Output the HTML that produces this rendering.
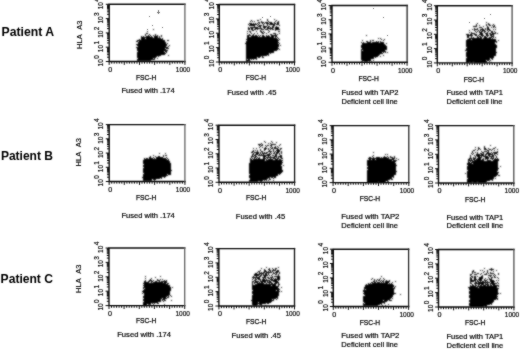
<!DOCTYPE html>
<html><head><meta charset="utf-8"><style>
html,body{margin:0;padding:0;background:#fff;}
body{width:520px;height:349px;overflow:hidden;}
svg{display:block;}
</style></head><body>
<svg width="520" height="349" viewBox="0 0 520 349">
<defs><filter id="bl" filterUnits="userSpaceOnUse" x="0" y="0" width="520" height="349"><feConvolveMatrix order="3" kernelMatrix="1 2 1 2 10.0 2 1 2 1" divisor="22.0" edgeMode="none"/></filter><filter id="gb" filterUnits="userSpaceOnUse" x="0" y="0" width="520" height="349"><feConvolveMatrix order="3" kernelMatrix="1 2 1 2 20.0 2 1 2 1" divisor="32.0" edgeMode="none"/></filter></defs><g filter="url(#gb)"><path d="M260 19.5h1M267 19.5h1M274 19.5h1M251 20.5h1M257 20.5h2M267 20.5h1M276 20.5h1M250 21.5h1M252 21.5h1M254 21.5h1M261 21.5h1M268 21.5h1M275 21.5h1M278 21.5h1M258 22.5h2M261 22.5h3M265 22.5h3M269 22.5h3M274 22.5h1M277 22.5h2M486 22.5h1M249 23.5h3M253 23.5h1M255 23.5h1M257 23.5h1M259 23.5h1M262 23.5h1M264 23.5h1M266 23.5h3M270 23.5h3M274 23.5h2M277 23.5h2M477 23.5h1M488 23.5h1M248 24.5h1M250 24.5h7M258 24.5h1M263 24.5h1M267 24.5h1M269 24.5h6M276 24.5h3M476 24.5h1M486 24.5h1M488 24.5h2M493 24.5h1M249 25.5h6M257 25.5h1M259 25.5h3M263 25.5h1M267 25.5h1M273 25.5h2M279 25.5h1M476 25.5h1M479 25.5h1M486 25.5h1M489 25.5h2M492 25.5h1M494 25.5h1M254 26.5h1M258 26.5h3M263 26.5h4M268 26.5h2M272 26.5h2M276 26.5h1M473 26.5h4M483 26.5h1M487 26.5h1M493 26.5h2M248 27.5h1M250 27.5h8M260 27.5h1M263 27.5h3M267 27.5h2M270 27.5h1M272 27.5h2M275 27.5h4M479 27.5h3M487 27.5h2M491 27.5h1M493 27.5h1M495 27.5h1M248 28.5h2M251 28.5h2M255 28.5h7M264 28.5h1M267 28.5h6M275 28.5h4M474 28.5h1M477 28.5h1M482 28.5h1M485 28.5h1M487 28.5h2M153 29.5h1M248 29.5h2M251 29.5h2M254 29.5h2M257 29.5h1M261 29.5h3M265 29.5h3M270 29.5h1M272 29.5h2M275 29.5h5M472 29.5h1M474 29.5h4M480 29.5h4M485 29.5h1M487 29.5h3M493 29.5h1M495 29.5h1M252 30.5h2M260 30.5h1M268 30.5h1M275 30.5h1M469 30.5h1M474 30.5h1M478 30.5h1M480 30.5h1M482 30.5h3M487 30.5h1M489 30.5h2M147 31.5h1M247 31.5h1M249 31.5h2M256 31.5h1M260 31.5h2M263 31.5h1M269 31.5h1M278 31.5h2M475 31.5h1M477 31.5h1M479 31.5h1M481 31.5h2M484 31.5h2M488 31.5h1M491 31.5h2M494 31.5h1M250 32.5h1M261 32.5h2M264 32.5h1M268 32.5h1M469 32.5h1M471 32.5h1M476 32.5h1M479 32.5h3M484 32.5h1M487 32.5h1M491 32.5h2M495 32.5h1M146 33.5h2M247 33.5h1M251 33.5h1M254 33.5h1M257 33.5h1M262 33.5h2M266 33.5h1M273 33.5h3M279 33.5h1M471 33.5h4M480 33.5h3M485 33.5h3M489 33.5h2M492 33.5h4M497 33.5h1M145 34.5h1M149 34.5h1M155 34.5h1M249 34.5h1M253 34.5h1M270 34.5h2M275 34.5h1M277 34.5h1M466 34.5h3M470 34.5h2M474 34.5h3M479 34.5h4M486 34.5h2M490 34.5h4M145 35.5h1M148 35.5h1M150 35.5h1M153 35.5h1M155 35.5h1M157 35.5h1M161 35.5h1M247 35.5h4M252 35.5h2M255 35.5h2M258 35.5h1M260 35.5h1M262 35.5h2M266 35.5h1M268 35.5h1M271 35.5h6M366 35.5h1M467 35.5h6M475 35.5h2M478 35.5h1M481 35.5h3M486 35.5h3M490 35.5h2M493 35.5h1M141 36.5h1M143 36.5h1M146 36.5h4M151 36.5h1M154 36.5h4M159 36.5h1M161 36.5h1M247 36.5h2M251 36.5h7M259 36.5h1M262 36.5h3M266 36.5h4M271 36.5h3M275 36.5h2M467 36.5h2M471 36.5h1M477 36.5h1M479 36.5h2M482 36.5h1M484 36.5h2M487 36.5h1M491 36.5h3M141 37.5h12M154 37.5h4M159 37.5h1M247 37.5h27M275 37.5h1M277 37.5h1M467 37.5h2M471 37.5h1M473 37.5h1M477 37.5h2M480 37.5h2M484 37.5h3M489 37.5h3M493 37.5h1M495 37.5h1M141 38.5h4M146 38.5h15M162 38.5h1M247 38.5h30M278 38.5h1M378 38.5h1M380 38.5h1M469 38.5h13M483 38.5h8M492 38.5h1M139 39.5h1M141 39.5h22M246 39.5h32M279 39.5h1M381 39.5h1M384 39.5h1M467 39.5h4M472 39.5h24M137 40.5h28M167 40.5h2M247 40.5h32M362 40.5h1M370 40.5h1M372 40.5h2M383 40.5h1M466 40.5h30M498 40.5h1M136 41.5h2M139 41.5h26M246 41.5h32M366 41.5h2M370 41.5h1M376 41.5h1M378 41.5h1M380 41.5h1M466 41.5h31M138 42.5h28M246 42.5h33M361 42.5h1M363 42.5h1M367 42.5h4M372 42.5h7M380 42.5h4M466 42.5h29M496 42.5h1M138 43.5h28M167 43.5h1M245 43.5h33M279 43.5h1M362 43.5h22M386 43.5h1M466 43.5h29M136 44.5h31M246 44.5h33M362 44.5h23M466 44.5h30M137 45.5h30M169 45.5h1M246 45.5h33M280 45.5h1M361 45.5h25M466 45.5h31M138 46.5h28M168 46.5h1M246 46.5h33M361 46.5h26M466 46.5h31M136 47.5h32M246 47.5h32M361 47.5h26M467 47.5h30M137 48.5h28M166 48.5h3M246 48.5h33M362 48.5h25M466 48.5h30M137 49.5h29M246 49.5h32M279 49.5h1M361 49.5h26M466 49.5h30M137 50.5h31M246 50.5h31M361 50.5h1M363 50.5h22M465 50.5h31M138 51.5h26M165 51.5h2M246 51.5h28M361 51.5h25M467 51.5h29M137 52.5h28M166 52.5h1M246 52.5h28M361 52.5h21M383 52.5h1M385 52.5h1M387 52.5h1M466 52.5h31M137 53.5h29M246 53.5h23M270 53.5h1M361 53.5h22M466 53.5h30M137 54.5h28M246 54.5h23M361 54.5h19M466 54.5h30M137 55.5h24M168 55.5h1M246 55.5h21M268 55.5h1M361 55.5h18M383 55.5h1M466 55.5h30M137 56.5h20M158 56.5h1M246 56.5h15M262 56.5h1M361 56.5h17M380 56.5h1M466 56.5h28M137 57.5h19M246 57.5h11M258 57.5h2M262 57.5h2M361 57.5h13M375 57.5h1M467 57.5h27M138 58.5h15M154 58.5h1M157 58.5h1M246 58.5h11M361 58.5h13M466 58.5h24M491 58.5h2M137 59.5h18M246 59.5h1M248 59.5h2M251 59.5h1M253 59.5h1M256 59.5h1M361 59.5h10M466 59.5h24M492 59.5h1M137 60.5h14M246 60.5h4M362 60.5h9M373 60.5h1M466 60.5h20M487 60.5h2M490 60.5h1M246 61.5h2M249 61.5h2M361 61.5h2M364 61.5h4M369 61.5h1M371 61.5h1M466 61.5h21M489 61.5h1M466 62.5h3M470 62.5h3M474 62.5h13M491 62.5h1M264 141.5h1M271 141.5h1M265 142.5h1M272 142.5h1M276 142.5h1M261 143.5h1M268 143.5h1M270 143.5h1M258 144.5h3M262 144.5h1M271 144.5h5M280 144.5h1M259 145.5h1M261 145.5h2M265 145.5h1M267 145.5h2M270 145.5h2M279 145.5h1M490 145.5h1M260 146.5h1M266 146.5h1M271 146.5h1M275 146.5h1M277 146.5h1M484 146.5h1M259 147.5h1M262 147.5h1M265 147.5h1M270 147.5h1M272 147.5h1M274 147.5h2M278 147.5h1M475 147.5h1M478 147.5h1M484 147.5h1M495 147.5h1M253 148.5h1M256 148.5h1M264 148.5h3M268 148.5h1M271 148.5h2M274 148.5h4M280 148.5h2M478 148.5h2M484 148.5h2M488 148.5h1M493 148.5h2M260 149.5h1M264 149.5h2M268 149.5h1M270 149.5h1M273 149.5h1M277 149.5h2M280 149.5h1M475 149.5h1M478 149.5h1M480 149.5h1M484 149.5h3M489 149.5h2M492 149.5h1M497 149.5h1M253 150.5h1M255 150.5h1M257 150.5h1M260 150.5h1M264 150.5h1M269 150.5h1M273 150.5h1M276 150.5h4M473 150.5h2M477 150.5h1M487 150.5h2M491 150.5h1M494 150.5h1M252 151.5h2M257 151.5h1M261 151.5h2M268 151.5h4M273 151.5h1M275 151.5h1M277 151.5h3M281 151.5h1M472 151.5h1M481 151.5h1M484 151.5h3M488 151.5h1M497 151.5h1M251 152.5h2M254 152.5h5M260 152.5h1M262 152.5h1M264 152.5h1M266 152.5h2M270 152.5h1M274 152.5h1M276 152.5h3M281 152.5h1M373 152.5h1M472 152.5h1M475 152.5h1M477 152.5h1M482 152.5h2M487 152.5h2M491 152.5h1M493 152.5h5M159 153.5h1M165 153.5h1M253 153.5h1M256 153.5h3M260 153.5h1M262 153.5h5M269 153.5h1M271 153.5h1M273 153.5h2M276 153.5h2M279 153.5h1M281 153.5h1M471 153.5h1M473 153.5h1M477 153.5h1M480 153.5h2M483 153.5h1M486 153.5h5M492 153.5h1M494 153.5h3M252 154.5h2M255 154.5h3M259 154.5h1M261 154.5h1M263 154.5h1M267 154.5h4M275 154.5h2M279 154.5h1M385 154.5h1M387 154.5h1M472 154.5h1M476 154.5h4M481 154.5h3M485 154.5h2M488 154.5h5M494 154.5h1M497 154.5h1M153 155.5h1M163 155.5h1M165 155.5h2M252 155.5h1M254 155.5h2M258 155.5h12M272 155.5h2M275 155.5h2M280 155.5h2M373 155.5h1M470 155.5h1M474 155.5h1M476 155.5h8M485 155.5h1M488 155.5h2M492 155.5h2M495 155.5h1M150 156.5h1M155 156.5h1M158 156.5h2M163 156.5h1M251 156.5h3M255 156.5h2M263 156.5h3M268 156.5h1M270 156.5h1M274 156.5h3M278 156.5h4M372 156.5h1M384 156.5h1M387 156.5h1M390 156.5h1M394 156.5h1M470 156.5h1M475 156.5h1M477 156.5h3M481 156.5h1M483 156.5h5M489 156.5h5M496 156.5h1M149 157.5h2M153 157.5h1M156 157.5h7M166 157.5h1M251 157.5h1M254 157.5h2M257 157.5h1M259 157.5h1M263 157.5h2M266 157.5h9M276 157.5h1M278 157.5h1M280 157.5h2M369 157.5h2M373 157.5h1M376 157.5h4M381 157.5h1M383 157.5h4M388 157.5h1M390 157.5h3M394 157.5h1M470 157.5h1M473 157.5h1M475 157.5h1M478 157.5h4M485 157.5h4M491 157.5h1M493 157.5h1M496 157.5h1M144 158.5h1M146 158.5h2M149 158.5h4M154 158.5h1M156 158.5h10M167 158.5h1M250 158.5h1M252 158.5h1M254 158.5h1M256 158.5h1M258 158.5h2M263 158.5h3M267 158.5h1M270 158.5h1M273 158.5h3M277 158.5h2M281 158.5h2M368 158.5h21M392 158.5h3M396 158.5h1M469 158.5h3M473 158.5h3M477 158.5h4M483 158.5h1M485 158.5h4M490 158.5h4M495 158.5h1M497 158.5h1M144 159.5h23M168 159.5h1M250 159.5h2M253 159.5h12M266 159.5h1M268 159.5h5M275 159.5h3M279 159.5h2M369 159.5h2M372 159.5h3M376 159.5h18M398 159.5h1M468 159.5h2M471 159.5h1M473 159.5h2M476 159.5h5M482 159.5h2M485 159.5h1M487 159.5h1M492 159.5h1M494 159.5h5M143 160.5h26M250 160.5h15M266 160.5h17M367 160.5h25M393 160.5h4M468 160.5h5M474 160.5h10M487 160.5h4M493 160.5h6M143 161.5h27M250 161.5h32M367 161.5h29M468 161.5h1M470 161.5h1M472 161.5h26M143 162.5h27M250 162.5h33M367 162.5h28M468 162.5h2M471 162.5h27M143 163.5h28M249 163.5h33M367 163.5h29M467 163.5h5M473 163.5h25M144 164.5h27M249 164.5h33M367 164.5h29M467 164.5h31M143 165.5h28M249 165.5h32M283 165.5h1M367 165.5h30M468 165.5h30M143 166.5h28M249 166.5h33M368 166.5h28M467 166.5h31M500 166.5h1M144 167.5h27M249 167.5h33M367 167.5h29M467 167.5h31M143 168.5h28M249 168.5h33M367 168.5h29M467 168.5h32M143 169.5h28M249 169.5h33M368 169.5h28M467 169.5h31M143 170.5h29M249 170.5h34M367 170.5h29M468 170.5h30M143 171.5h28M249 171.5h34M367 171.5h30M467 171.5h30M143 172.5h28M249 172.5h33M367 172.5h29M467 172.5h32M144 173.5h27M249 173.5h32M367 173.5h29M465 173.5h1M467 173.5h31M143 174.5h24M168 174.5h3M250 174.5h28M279 174.5h1M367 174.5h29M467 174.5h31M143 175.5h25M249 175.5h29M367 175.5h27M467 175.5h30M498 175.5h2M143 176.5h23M249 176.5h27M367 176.5h27M467 176.5h29M142 177.5h20M164 177.5h1M249 177.5h21M271 177.5h2M274 177.5h2M367 177.5h25M393 177.5h1M467 177.5h27M143 178.5h17M161 178.5h1M250 178.5h18M269 178.5h1M273 178.5h1M367 178.5h25M468 178.5h26M495 178.5h1M143 179.5h9M153 179.5h3M250 179.5h17M269 179.5h2M367 179.5h23M391 179.5h2M467 179.5h26M143 180.5h9M154 180.5h1M249 180.5h14M264 180.5h1M266 180.5h1M268 180.5h1M273 180.5h1M367 180.5h21M467 180.5h23M492 180.5h1M249 181.5h9M260 181.5h2M367 181.5h19M387 181.5h2M467 181.5h20M367 182.5h11M379 182.5h6M467 182.5h5M473 182.5h4M478 182.5h8M266 267.5h1M278 267.5h1M261 268.5h1M269 268.5h1M272 268.5h1M275 268.5h2M484 268.5h1M491 268.5h1M264 269.5h1M268 269.5h2M273 269.5h1M275 269.5h1M489 269.5h5M260 270.5h1M264 270.5h2M269 270.5h2M272 270.5h4M277 270.5h2M473 270.5h1M480 270.5h1M482 270.5h1M487 270.5h1M491 270.5h1M496 270.5h1M258 271.5h2M264 271.5h3M268 271.5h1M270 271.5h1M272 271.5h1M276 271.5h3M472 271.5h2M484 271.5h1M487 271.5h1M493 271.5h1M257 272.5h1M259 272.5h1M261 272.5h1M263 272.5h2M266 272.5h6M273 272.5h1M275 272.5h3M279 272.5h1M472 272.5h1M474 272.5h2M483 272.5h1M487 272.5h1M490 272.5h1M255 273.5h2M259 273.5h5M265 273.5h2M268 273.5h1M273 273.5h2M276 273.5h1M279 273.5h1M472 273.5h1M477 273.5h2M481 273.5h1M486 273.5h1M488 273.5h1M490 273.5h4M498 273.5h1M254 274.5h6M261 274.5h1M263 274.5h1M265 274.5h2M268 274.5h1M272 274.5h1M275 274.5h2M278 274.5h1M470 274.5h2M474 274.5h3M480 274.5h1M484 274.5h3M494 274.5h1M498 274.5h1M254 275.5h5M260 275.5h2M263 275.5h5M269 275.5h1M271 275.5h1M278 275.5h1M470 275.5h1M482 275.5h1M488 275.5h4M493 275.5h1M495 275.5h1M145 276.5h1M160 276.5h1M253 276.5h1M256 276.5h1M259 276.5h2M264 276.5h2M272 276.5h1M274 276.5h6M381 276.5h1M471 276.5h2M474 276.5h2M477 276.5h1M481 276.5h2M490 276.5h1M494 276.5h1M155 277.5h1M252 277.5h8M262 277.5h4M267 277.5h2M270 277.5h3M277 277.5h3M470 277.5h1M472 277.5h1M474 277.5h2M479 277.5h4M488 277.5h1M491 277.5h2M494 277.5h2M497 277.5h1M145 278.5h1M151 278.5h1M253 278.5h1M255 278.5h1M257 278.5h3M263 278.5h1M265 278.5h1M268 278.5h2M271 278.5h1M273 278.5h1M275 278.5h1M277 278.5h3M372 278.5h1M380 278.5h1M383 278.5h1M470 278.5h2M474 278.5h2M479 278.5h4M485 278.5h1M489 278.5h1M491 278.5h1M498 278.5h1M150 279.5h1M157 279.5h1M160 279.5h1M162 279.5h1M252 279.5h1M255 279.5h2M258 279.5h3M262 279.5h3M266 279.5h1M270 279.5h3M274 279.5h6M371 279.5h1M374 279.5h1M377 279.5h1M379 279.5h1M384 279.5h1M470 279.5h2M474 279.5h3M478 279.5h4M484 279.5h1M487 279.5h1M489 279.5h3M145 280.5h1M149 280.5h3M153 280.5h1M157 280.5h3M164 280.5h1M166 280.5h1M254 280.5h2M260 280.5h1M262 280.5h8M271 280.5h6M278 280.5h1M374 280.5h1M376 280.5h1M378 280.5h2M381 280.5h1M383 280.5h1M386 280.5h1M389 280.5h1M470 280.5h6M477 280.5h1M479 280.5h3M484 280.5h3M490 280.5h4M496 280.5h1M498 280.5h1M144 281.5h2M148 281.5h2M151 281.5h2M155 281.5h2M159 281.5h1M161 281.5h6M252 281.5h2M255 281.5h4M260 281.5h6M267 281.5h1M269 281.5h2M273 281.5h5M373 281.5h2M376 281.5h1M380 281.5h1M382 281.5h2M385 281.5h5M395 281.5h1M470 281.5h4M475 281.5h1M477 281.5h2M480 281.5h1M482 281.5h2M485 281.5h1M487 281.5h1M490 281.5h5M144 282.5h5M151 282.5h1M153 282.5h10M164 282.5h3M252 282.5h1M254 282.5h4M259 282.5h1M261 282.5h2M264 282.5h2M267 282.5h5M275 282.5h4M371 282.5h2M374 282.5h2M377 282.5h3M381 282.5h1M383 282.5h1M385 282.5h4M392 282.5h1M470 282.5h1M475 282.5h2M478 282.5h12M491 282.5h3M497 282.5h1M143 283.5h23M167 283.5h2M252 283.5h1M254 283.5h1M257 283.5h7M266 283.5h1M269 283.5h1M271 283.5h2M274 283.5h3M278 283.5h1M368 283.5h1M370 283.5h1M372 283.5h16M389 283.5h1M391 283.5h1M470 283.5h2M474 283.5h10M485 283.5h1M487 283.5h1M490 283.5h7M498 283.5h1M144 284.5h24M252 284.5h1M255 284.5h21M278 284.5h2M366 284.5h1M368 284.5h25M472 284.5h1M475 284.5h1M478 284.5h2M481 284.5h3M485 284.5h4M490 284.5h1M492 284.5h3M143 285.5h27M252 285.5h19M272 285.5h4M278 285.5h1M365 285.5h29M470 285.5h1M472 285.5h2M475 285.5h2M478 285.5h1M480 285.5h2M483 285.5h3M487 285.5h2M490 285.5h2M493 285.5h6M144 286.5h26M252 286.5h27M365 286.5h29M395 286.5h1M470 286.5h6M477 286.5h20M498 286.5h1M143 287.5h28M172 287.5h1M252 287.5h26M281 287.5h1M364 287.5h29M394 287.5h1M468 287.5h10M479 287.5h18M143 288.5h1M145 288.5h26M252 288.5h27M364 288.5h31M469 288.5h30M144 289.5h27M252 289.5h28M364 289.5h1M366 289.5h28M469 289.5h29M143 290.5h28M253 290.5h23M277 290.5h2M363 290.5h31M470 290.5h28M142 291.5h28M252 291.5h28M281 291.5h1M363 291.5h31M469 291.5h29M143 292.5h27M252 292.5h27M364 292.5h30M469 292.5h29M142 293.5h1M144 293.5h26M252 293.5h27M363 293.5h33M469 293.5h30M500 293.5h1M144 294.5h26M253 294.5h26M364 294.5h30M400 294.5h1M470 294.5h28M144 295.5h25M170 295.5h1M252 295.5h27M365 295.5h28M469 295.5h28M143 296.5h24M168 296.5h1M171 296.5h1M252 296.5h26M363 296.5h30M469 296.5h29M143 297.5h23M167 297.5h2M252 297.5h26M363 297.5h29M469 297.5h28M144 298.5h18M163 298.5h4M252 298.5h24M277 298.5h1M363 298.5h28M392 298.5h1M470 298.5h28M143 299.5h18M162 299.5h3M252 299.5h20M273 299.5h1M276 299.5h1M363 299.5h27M470 299.5h26M497 299.5h1M143 300.5h18M162 300.5h1M164 300.5h2M171 300.5h1M251 300.5h23M363 300.5h20M384 300.5h4M389 300.5h3M469 300.5h25M144 301.5h17M163 301.5h1M252 301.5h20M363 301.5h24M469 301.5h25M143 302.5h15M252 302.5h6M259 302.5h12M364 302.5h21M470 302.5h23M143 303.5h8M152 303.5h1M154 303.5h1M157 303.5h2M252 303.5h14M267 303.5h2M363 303.5h1M365 303.5h17M384 303.5h1M469 303.5h23M143 304.5h4M148 304.5h3M153 304.5h1M164 304.5h1M252 304.5h6M259 304.5h3M363 304.5h17M381 304.5h1M388 304.5h1M469 304.5h21M491 304.5h1M143 305.5h4M155 305.5h1M253 305.5h4M261 305.5h1M265 305.5h1M363 305.5h15M382 305.5h1M385 305.5h1M469 305.5h18M470 306.5h14M485 306.5h2" stroke="#000" stroke-width="1" fill="none" shape-rendering="crispEdges" filter="url(#bl)"/><path d="M373 8.5h1M158 10.5h1M158 11.5h1M157 12.5h3M158 13.5h1M490 14.5h1M149 16.5h1M270 16.5h1M262 17.5h1M383 17.5h1M484 18.5h1M469 22.5h1M477 23.5h1M152 25.5h1M162 27.5h1M147 29.5h1M387 35.5h1" stroke="#777" stroke-width="1" fill="none" shape-rendering="crispEdges"/><path d="M184.9 61.5H109.2V4.3H184.9M294.5 62.0H219.3V4.5H294.5M407.1 62.3H332.0V5.5H407.1M512.1 62.9H437.3V5.7H512.1M184.9 181.5H109.2V124.6H184.9M294.6 182.3H219.0V125.2H294.6M408.8 182.6H333.1V125.6H408.8M513.8 183.0H438.5V125.6H513.8M184.7 305.6H109.0V248.0H184.7M294.5 306.0H218.9V248.6H294.5M408.6 306.5H333.3V249.2H408.6M513.9 307.0H438.5V249.5H513.9" stroke="#111" stroke-width="1.4" fill="none" stroke-linecap="square"/><path d="M184.9 3.6V62.2" stroke="#666" stroke-width="1.3"/><path d="M294.5 3.8V62.7" stroke="#1a1a1a" stroke-width="1.3"/><path d="M407.1 4.8V63.0" stroke="#2a2a2a" stroke-width="1.3"/><path d="M512.1 5.0V63.6" stroke="#505050" stroke-width="1.3"/><path d="M184.9 123.9V182.2" stroke="#666" stroke-width="1.3"/><path d="M294.6 124.5V183.0" stroke="#1a1a1a" stroke-width="1.3"/><path d="M408.8 124.9V183.3" stroke="#2a2a2a" stroke-width="1.3"/><path d="M513.8 124.9V183.7" stroke="#505050" stroke-width="1.3"/><path d="M184.7 247.3V306.3" stroke="#666" stroke-width="1.3"/><path d="M294.5 247.9V306.7" stroke="#1a1a1a" stroke-width="1.3"/><path d="M408.6 248.5V307.2" stroke="#2a2a2a" stroke-width="1.3"/><path d="M513.9 248.8V307.7" stroke="#505050" stroke-width="1.3"/><path d="M109.2 61.5v3.4M111.7 61.5v2.2M114.2 61.5v2.2M116.8 61.5v2.2M119.3 61.5v2.2M121.8 61.5v2.2M124.3 61.5v3.4M126.9 61.5v2.2M129.4 61.5v2.2M131.9 61.5v2.2M134.4 61.5v2.2M137.0 61.5v2.2M139.5 61.5v3.4M142.0 61.5v2.2M144.5 61.5v2.2M147.1 61.5v2.2M149.6 61.5v2.2M152.1 61.5v2.2M154.6 61.5v3.4M157.1 61.5v2.2M159.7 61.5v2.2M162.2 61.5v2.2M164.7 61.5v2.2M167.2 61.5v2.2M169.8 61.5v3.4M172.3 61.5v2.2M174.8 61.5v2.2M177.3 61.5v2.2M179.9 61.5v2.2M182.4 61.5v2.2M184.9 61.5v3.4M109.2 61.5h-3.4M109.2 57.2h-2.2M109.2 54.7h-2.2M109.2 52.9h-2.2M109.2 51.5h-2.2M109.2 50.4h-2.2M109.2 49.4h-2.2M109.2 48.6h-2.2M109.2 47.9h-2.2M109.2 47.2h-3.4M109.2 42.9h-2.2M109.2 40.4h-2.2M109.2 38.6h-2.2M109.2 37.2h-2.2M109.2 36.1h-2.2M109.2 35.1h-2.2M109.2 34.3h-2.2M109.2 33.6h-2.2M109.2 32.9h-3.4M109.2 28.6h-2.2M109.2 26.1h-2.2M109.2 24.3h-2.2M109.2 22.9h-2.2M109.2 21.8h-2.2M109.2 20.8h-2.2M109.2 20.0h-2.2M109.2 19.3h-2.2M109.2 18.6h-3.4M109.2 14.3h-2.2M109.2 11.8h-2.2M109.2 10.0h-2.2M109.2 8.6h-2.2M109.2 7.5h-2.2M109.2 6.5h-2.2M109.2 5.7h-2.2M109.2 5.0h-2.2M109.2 4.3h-3.4M219.3 62.0v3.4M221.8 62.0v2.2M224.3 62.0v2.2M226.8 62.0v2.2M229.3 62.0v2.2M231.8 62.0v2.2M234.3 62.0v3.4M236.8 62.0v2.2M239.4 62.0v2.2M241.9 62.0v2.2M244.4 62.0v2.2M246.9 62.0v2.2M249.4 62.0v3.4M251.9 62.0v2.2M254.4 62.0v2.2M256.9 62.0v2.2M259.4 62.0v2.2M261.9 62.0v2.2M264.4 62.0v3.4M266.9 62.0v2.2M269.4 62.0v2.2M271.9 62.0v2.2M274.4 62.0v2.2M277.0 62.0v2.2M279.5 62.0v3.4M282.0 62.0v2.2M284.5 62.0v2.2M287.0 62.0v2.2M289.5 62.0v2.2M292.0 62.0v2.2M294.5 62.0v3.4M219.3 62.0h-3.4M219.3 57.7h-2.2M219.3 55.1h-2.2M219.3 53.3h-2.2M219.3 52.0h-2.2M219.3 50.8h-2.2M219.3 49.9h-2.2M219.3 49.0h-2.2M219.3 48.3h-2.2M219.3 47.6h-3.4M219.3 43.3h-2.2M219.3 40.8h-2.2M219.3 39.0h-2.2M219.3 37.6h-2.2M219.3 36.4h-2.2M219.3 35.5h-2.2M219.3 34.6h-2.2M219.3 33.9h-2.2M219.3 33.2h-3.4M219.3 28.9h-2.2M219.3 26.4h-2.2M219.3 24.6h-2.2M219.3 23.2h-2.2M219.3 22.1h-2.2M219.3 21.1h-2.2M219.3 20.3h-2.2M219.3 19.5h-2.2M219.3 18.9h-3.4M219.3 14.5h-2.2M219.3 12.0h-2.2M219.3 10.2h-2.2M219.3 8.8h-2.2M219.3 7.7h-2.2M219.3 6.7h-2.2M219.3 5.9h-2.2M219.3 5.2h-2.2M219.3 4.5h-3.4M332.0 62.3v3.4M334.5 62.3v2.2M337.0 62.3v2.2M339.5 62.3v2.2M342.0 62.3v2.2M344.5 62.3v2.2M347.0 62.3v3.4M349.5 62.3v2.2M352.0 62.3v2.2M354.5 62.3v2.2M357.0 62.3v2.2M359.5 62.3v2.2M362.0 62.3v3.4M364.5 62.3v2.2M367.0 62.3v2.2M369.6 62.3v2.2M372.1 62.3v2.2M374.6 62.3v2.2M377.1 62.3v3.4M379.6 62.3v2.2M382.1 62.3v2.2M384.6 62.3v2.2M387.1 62.3v2.2M389.6 62.3v2.2M392.1 62.3v3.4M394.6 62.3v2.2M397.1 62.3v2.2M399.6 62.3v2.2M402.1 62.3v2.2M404.6 62.3v2.2M407.1 62.3v3.4M332.0 62.3h-3.4M332.0 58.0h-2.2M332.0 55.5h-2.2M332.0 53.8h-2.2M332.0 52.4h-2.2M332.0 51.3h-2.2M332.0 50.3h-2.2M332.0 49.5h-2.2M332.0 48.7h-2.2M332.0 48.1h-3.4M332.0 43.8h-2.2M332.0 41.3h-2.2M332.0 39.6h-2.2M332.0 38.2h-2.2M332.0 37.1h-2.2M332.0 36.1h-2.2M332.0 35.3h-2.2M332.0 34.5h-2.2M332.0 33.9h-3.4M332.0 29.6h-2.2M332.0 27.1h-2.2M332.0 25.4h-2.2M332.0 24.0h-2.2M332.0 22.9h-2.2M332.0 21.9h-2.2M332.0 21.1h-2.2M332.0 20.3h-2.2M332.0 19.7h-3.4M332.0 15.4h-2.2M332.0 12.9h-2.2M332.0 11.2h-2.2M332.0 9.8h-2.2M332.0 8.7h-2.2M332.0 7.7h-2.2M332.0 6.9h-2.2M332.0 6.1h-2.2M332.0 5.5h-3.4M437.3 62.9v3.4M439.8 62.9v2.2M442.3 62.9v2.2M444.8 62.9v2.2M447.3 62.9v2.2M449.8 62.9v2.2M452.3 62.9v3.4M454.8 62.9v2.2M457.2 62.9v2.2M459.7 62.9v2.2M462.2 62.9v2.2M464.7 62.9v2.2M467.2 62.9v3.4M469.7 62.9v2.2M472.2 62.9v2.2M474.7 62.9v2.2M477.2 62.9v2.2M479.7 62.9v2.2M482.2 62.9v3.4M484.7 62.9v2.2M487.2 62.9v2.2M489.7 62.9v2.2M492.2 62.9v2.2M494.6 62.9v2.2M497.1 62.9v3.4M499.6 62.9v2.2M502.1 62.9v2.2M504.6 62.9v2.2M507.1 62.9v2.2M509.6 62.9v2.2M512.1 62.9v3.4M437.3 62.9h-3.4M437.3 58.6h-2.2M437.3 56.1h-2.2M437.3 54.3h-2.2M437.3 52.9h-2.2M437.3 51.8h-2.2M437.3 50.8h-2.2M437.3 50.0h-2.2M437.3 49.3h-2.2M437.3 48.6h-3.4M437.3 44.3h-2.2M437.3 41.8h-2.2M437.3 40.0h-2.2M437.3 38.6h-2.2M437.3 37.5h-2.2M437.3 36.5h-2.2M437.3 35.7h-2.2M437.3 35.0h-2.2M437.3 34.3h-3.4M437.3 30.0h-2.2M437.3 27.5h-2.2M437.3 25.7h-2.2M437.3 24.3h-2.2M437.3 23.2h-2.2M437.3 22.2h-2.2M437.3 21.4h-2.2M437.3 20.7h-2.2M437.3 20.0h-3.4M437.3 15.7h-2.2M437.3 13.2h-2.2M437.3 11.4h-2.2M437.3 10.0h-2.2M437.3 8.9h-2.2M437.3 7.9h-2.2M437.3 7.1h-2.2M437.3 6.4h-2.2M437.3 5.7h-3.4M109.2 181.5v3.4M111.7 181.5v2.2M114.2 181.5v2.2M116.8 181.5v2.2M119.3 181.5v2.2M121.8 181.5v2.2M124.3 181.5v3.4M126.9 181.5v2.2M129.4 181.5v2.2M131.9 181.5v2.2M134.4 181.5v2.2M137.0 181.5v2.2M139.5 181.5v3.4M142.0 181.5v2.2M144.5 181.5v2.2M147.1 181.5v2.2M149.6 181.5v2.2M152.1 181.5v2.2M154.6 181.5v3.4M157.1 181.5v2.2M159.7 181.5v2.2M162.2 181.5v2.2M164.7 181.5v2.2M167.2 181.5v2.2M169.8 181.5v3.4M172.3 181.5v2.2M174.8 181.5v2.2M177.3 181.5v2.2M179.9 181.5v2.2M182.4 181.5v2.2M184.9 181.5v3.4M109.2 181.5h-3.4M109.2 177.2h-2.2M109.2 174.7h-2.2M109.2 172.9h-2.2M109.2 171.6h-2.2M109.2 170.4h-2.2M109.2 169.5h-2.2M109.2 168.7h-2.2M109.2 167.9h-2.2M109.2 167.3h-3.4M109.2 163.0h-2.2M109.2 160.5h-2.2M109.2 158.7h-2.2M109.2 157.3h-2.2M109.2 156.2h-2.2M109.2 155.3h-2.2M109.2 154.4h-2.2M109.2 153.7h-2.2M109.2 153.1h-3.4M109.2 148.8h-2.2M109.2 146.3h-2.2M109.2 144.5h-2.2M109.2 143.1h-2.2M109.2 142.0h-2.2M109.2 141.0h-2.2M109.2 140.2h-2.2M109.2 139.5h-2.2M109.2 138.8h-3.4M109.2 134.5h-2.2M109.2 132.0h-2.2M109.2 130.3h-2.2M109.2 128.9h-2.2M109.2 127.8h-2.2M109.2 126.8h-2.2M109.2 126.0h-2.2M109.2 125.3h-2.2M109.2 124.6h-3.4M219.0 182.3v3.4M221.5 182.3v2.2M224.0 182.3v2.2M226.6 182.3v2.2M229.1 182.3v2.2M231.6 182.3v2.2M234.1 182.3v3.4M236.6 182.3v2.2M239.2 182.3v2.2M241.7 182.3v2.2M244.2 182.3v2.2M246.7 182.3v2.2M249.2 182.3v3.4M251.8 182.3v2.2M254.3 182.3v2.2M256.8 182.3v2.2M259.3 182.3v2.2M261.8 182.3v2.2M264.4 182.3v3.4M266.9 182.3v2.2M269.4 182.3v2.2M271.9 182.3v2.2M274.4 182.3v2.2M277.0 182.3v2.2M279.5 182.3v3.4M282.0 182.3v2.2M284.5 182.3v2.2M287.0 182.3v2.2M289.6 182.3v2.2M292.1 182.3v2.2M294.6 182.3v3.4M219.0 182.3h-3.4M219.0 178.0h-2.2M219.0 175.5h-2.2M219.0 173.7h-2.2M219.0 172.3h-2.2M219.0 171.2h-2.2M219.0 170.2h-2.2M219.0 169.4h-2.2M219.0 168.7h-2.2M219.0 168.0h-3.4M219.0 163.7h-2.2M219.0 161.2h-2.2M219.0 159.4h-2.2M219.0 158.0h-2.2M219.0 156.9h-2.2M219.0 156.0h-2.2M219.0 155.1h-2.2M219.0 154.4h-2.2M219.0 153.8h-3.4M219.0 149.5h-2.2M219.0 146.9h-2.2M219.0 145.2h-2.2M219.0 143.8h-2.2M219.0 142.6h-2.2M219.0 141.7h-2.2M219.0 140.9h-2.2M219.0 140.1h-2.2M219.0 139.5h-3.4M219.0 135.2h-2.2M219.0 132.7h-2.2M219.0 130.9h-2.2M219.0 129.5h-2.2M219.0 128.4h-2.2M219.0 127.4h-2.2M219.0 126.6h-2.2M219.0 125.9h-2.2M219.0 125.2h-3.4M333.1 182.6v3.4M335.6 182.6v2.2M338.1 182.6v2.2M340.7 182.6v2.2M343.2 182.6v2.2M345.7 182.6v2.2M348.2 182.6v3.4M350.8 182.6v2.2M353.3 182.6v2.2M355.8 182.6v2.2M358.3 182.6v2.2M360.9 182.6v2.2M363.4 182.6v3.4M365.9 182.6v2.2M368.4 182.6v2.2M371.0 182.6v2.2M373.5 182.6v2.2M376.0 182.6v2.2M378.5 182.6v3.4M381.0 182.6v2.2M383.6 182.6v2.2M386.1 182.6v2.2M388.6 182.6v2.2M391.1 182.6v2.2M393.7 182.6v3.4M396.2 182.6v2.2M398.7 182.6v2.2M401.2 182.6v2.2M403.8 182.6v2.2M406.3 182.6v2.2M408.8 182.6v3.4M333.1 182.6h-3.4M333.1 178.3h-2.2M333.1 175.8h-2.2M333.1 174.0h-2.2M333.1 172.6h-2.2M333.1 171.5h-2.2M333.1 170.6h-2.2M333.1 169.7h-2.2M333.1 169.0h-2.2M333.1 168.3h-3.4M333.1 164.1h-2.2M333.1 161.6h-2.2M333.1 159.8h-2.2M333.1 158.4h-2.2M333.1 157.3h-2.2M333.1 156.3h-2.2M333.1 155.5h-2.2M333.1 154.8h-2.2M333.1 154.1h-3.4M333.1 149.8h-2.2M333.1 147.3h-2.2M333.1 145.5h-2.2M333.1 144.1h-2.2M333.1 143.0h-2.2M333.1 142.1h-2.2M333.1 141.2h-2.2M333.1 140.5h-2.2M333.1 139.8h-3.4M333.1 135.6h-2.2M333.1 133.1h-2.2M333.1 131.3h-2.2M333.1 129.9h-2.2M333.1 128.8h-2.2M333.1 127.8h-2.2M333.1 127.0h-2.2M333.1 126.3h-2.2M333.1 125.6h-3.4M438.5 183.0v3.4M441.0 183.0v2.2M443.5 183.0v2.2M446.0 183.0v2.2M448.5 183.0v2.2M451.1 183.0v2.2M453.6 183.0v3.4M456.1 183.0v2.2M458.6 183.0v2.2M461.1 183.0v2.2M463.6 183.0v2.2M466.1 183.0v2.2M468.6 183.0v3.4M471.1 183.0v2.2M473.6 183.0v2.2M476.1 183.0v2.2M478.7 183.0v2.2M481.2 183.0v2.2M483.7 183.0v3.4M486.2 183.0v2.2M488.7 183.0v2.2M491.2 183.0v2.2M493.7 183.0v2.2M496.2 183.0v2.2M498.7 183.0v3.4M501.2 183.0v2.2M503.8 183.0v2.2M506.3 183.0v2.2M508.8 183.0v2.2M511.3 183.0v2.2M513.8 183.0v3.4M438.5 183.0h-3.4M438.5 178.7h-2.2M438.5 176.2h-2.2M438.5 174.4h-2.2M438.5 173.0h-2.2M438.5 171.8h-2.2M438.5 170.9h-2.2M438.5 170.0h-2.2M438.5 169.3h-2.2M438.5 168.7h-3.4M438.5 164.3h-2.2M438.5 161.8h-2.2M438.5 160.0h-2.2M438.5 158.6h-2.2M438.5 157.5h-2.2M438.5 156.5h-2.2M438.5 155.7h-2.2M438.5 155.0h-2.2M438.5 154.3h-3.4M438.5 150.0h-2.2M438.5 147.5h-2.2M438.5 145.7h-2.2M438.5 144.3h-2.2M438.5 143.1h-2.2M438.5 142.2h-2.2M438.5 141.3h-2.2M438.5 140.6h-2.2M438.5 139.9h-3.4M438.5 135.6h-2.2M438.5 133.1h-2.2M438.5 131.3h-2.2M438.5 129.9h-2.2M438.5 128.8h-2.2M438.5 127.8h-2.2M438.5 127.0h-2.2M438.5 126.3h-2.2M438.5 125.6h-3.4M109.0 305.6v3.4M111.5 305.6v2.2M114.0 305.6v2.2M116.6 305.6v2.2M119.1 305.6v2.2M121.6 305.6v2.2M124.1 305.6v3.4M126.7 305.6v2.2M129.2 305.6v2.2M131.7 305.6v2.2M134.2 305.6v2.2M136.8 305.6v2.2M139.3 305.6v3.4M141.8 305.6v2.2M144.3 305.6v2.2M146.8 305.6v2.2M149.4 305.6v2.2M151.9 305.6v2.2M154.4 305.6v3.4M156.9 305.6v2.2M159.5 305.6v2.2M162.0 305.6v2.2M164.5 305.6v2.2M167.0 305.6v2.2M169.6 305.6v3.4M172.1 305.6v2.2M174.6 305.6v2.2M177.1 305.6v2.2M179.7 305.6v2.2M182.2 305.6v2.2M184.7 305.6v3.4M109.0 305.6h-3.4M109.0 301.3h-2.2M109.0 298.7h-2.2M109.0 296.9h-2.2M109.0 295.5h-2.2M109.0 294.4h-2.2M109.0 293.4h-2.2M109.0 292.6h-2.2M109.0 291.9h-2.2M109.0 291.2h-3.4M109.0 286.9h-2.2M109.0 284.3h-2.2M109.0 282.5h-2.2M109.0 281.1h-2.2M109.0 280.0h-2.2M109.0 279.0h-2.2M109.0 278.2h-2.2M109.0 277.5h-2.2M109.0 276.8h-3.4M109.0 272.5h-2.2M109.0 269.9h-2.2M109.0 268.1h-2.2M109.0 266.7h-2.2M109.0 265.6h-2.2M109.0 264.6h-2.2M109.0 263.8h-2.2M109.0 263.1h-2.2M109.0 262.4h-3.4M109.0 258.1h-2.2M109.0 255.5h-2.2M109.0 253.7h-2.2M109.0 252.3h-2.2M109.0 251.2h-2.2M109.0 250.2h-2.2M109.0 249.4h-2.2M109.0 248.7h-2.2M109.0 248.0h-3.4M218.9 306.0v3.4M221.4 306.0v2.2M223.9 306.0v2.2M226.5 306.0v2.2M229.0 306.0v2.2M231.5 306.0v2.2M234.0 306.0v3.4M236.5 306.0v2.2M239.1 306.0v2.2M241.6 306.0v2.2M244.1 306.0v2.2M246.6 306.0v2.2M249.1 306.0v3.4M251.7 306.0v2.2M254.2 306.0v2.2M256.7 306.0v2.2M259.2 306.0v2.2M261.7 306.0v2.2M264.3 306.0v3.4M266.8 306.0v2.2M269.3 306.0v2.2M271.8 306.0v2.2M274.3 306.0v2.2M276.9 306.0v2.2M279.4 306.0v3.4M281.9 306.0v2.2M284.4 306.0v2.2M286.9 306.0v2.2M289.5 306.0v2.2M292.0 306.0v2.2M294.5 306.0v3.4M218.9 306.0h-3.4M218.9 301.7h-2.2M218.9 299.2h-2.2M218.9 297.4h-2.2M218.9 296.0h-2.2M218.9 294.8h-2.2M218.9 293.9h-2.2M218.9 293.0h-2.2M218.9 292.3h-2.2M218.9 291.6h-3.4M218.9 287.3h-2.2M218.9 284.8h-2.2M218.9 283.0h-2.2M218.9 281.6h-2.2M218.9 280.5h-2.2M218.9 279.5h-2.2M218.9 278.7h-2.2M218.9 278.0h-2.2M218.9 277.3h-3.4M218.9 273.0h-2.2M218.9 270.5h-2.2M218.9 268.7h-2.2M218.9 267.3h-2.2M218.9 266.1h-2.2M218.9 265.2h-2.2M218.9 264.3h-2.2M218.9 263.6h-2.2M218.9 262.9h-3.4M218.9 258.6h-2.2M218.9 256.1h-2.2M218.9 254.3h-2.2M218.9 252.9h-2.2M218.9 251.8h-2.2M218.9 250.8h-2.2M218.9 250.0h-2.2M218.9 249.3h-2.2M218.9 248.6h-3.4M333.3 306.5v3.4M335.8 306.5v2.2M338.3 306.5v2.2M340.8 306.5v2.2M343.3 306.5v2.2M345.9 306.5v2.2M348.4 306.5v3.4M350.9 306.5v2.2M353.4 306.5v2.2M355.9 306.5v2.2M358.4 306.5v2.2M360.9 306.5v2.2M363.4 306.5v3.4M365.9 306.5v2.2M368.4 306.5v2.2M371.0 306.5v2.2M373.5 306.5v2.2M376.0 306.5v2.2M378.5 306.5v3.4M381.0 306.5v2.2M383.5 306.5v2.2M386.0 306.5v2.2M388.5 306.5v2.2M391.0 306.5v2.2M393.5 306.5v3.4M396.1 306.5v2.2M398.6 306.5v2.2M401.1 306.5v2.2M403.6 306.5v2.2M406.1 306.5v2.2M408.6 306.5v3.4M333.3 306.5h-3.4M333.3 302.2h-2.2M333.3 299.7h-2.2M333.3 297.9h-2.2M333.3 296.5h-2.2M333.3 295.4h-2.2M333.3 294.4h-2.2M333.3 293.6h-2.2M333.3 292.8h-2.2M333.3 292.2h-3.4M333.3 287.9h-2.2M333.3 285.3h-2.2M333.3 283.6h-2.2M333.3 282.2h-2.2M333.3 281.0h-2.2M333.3 280.1h-2.2M333.3 279.2h-2.2M333.3 278.5h-2.2M333.3 277.9h-3.4M333.3 273.5h-2.2M333.3 271.0h-2.2M333.3 269.2h-2.2M333.3 267.8h-2.2M333.3 266.7h-2.2M333.3 265.7h-2.2M333.3 264.9h-2.2M333.3 264.2h-2.2M333.3 263.5h-3.4M333.3 259.2h-2.2M333.3 256.7h-2.2M333.3 254.9h-2.2M333.3 253.5h-2.2M333.3 252.4h-2.2M333.3 251.4h-2.2M333.3 250.6h-2.2M333.3 249.9h-2.2M333.3 249.2h-3.4M438.5 307.0v3.4M441.0 307.0v2.2M443.5 307.0v2.2M446.0 307.0v2.2M448.6 307.0v2.2M451.1 307.0v2.2M453.6 307.0v3.4M456.1 307.0v2.2M458.6 307.0v2.2M461.1 307.0v2.2M463.6 307.0v2.2M466.1 307.0v2.2M468.7 307.0v3.4M471.2 307.0v2.2M473.7 307.0v2.2M476.2 307.0v2.2M478.7 307.0v2.2M481.2 307.0v2.2M483.7 307.0v3.4M486.3 307.0v2.2M488.8 307.0v2.2M491.3 307.0v2.2M493.8 307.0v2.2M496.3 307.0v2.2M498.8 307.0v3.4M501.3 307.0v2.2M503.8 307.0v2.2M506.4 307.0v2.2M508.9 307.0v2.2M511.4 307.0v2.2M513.9 307.0v3.4M438.5 307.0h-3.4M438.5 302.7h-2.2M438.5 300.1h-2.2M438.5 298.3h-2.2M438.5 297.0h-2.2M438.5 295.8h-2.2M438.5 294.9h-2.2M438.5 294.0h-2.2M438.5 293.3h-2.2M438.5 292.6h-3.4M438.5 288.3h-2.2M438.5 285.8h-2.2M438.5 284.0h-2.2M438.5 282.6h-2.2M438.5 281.4h-2.2M438.5 280.5h-2.2M438.5 279.6h-2.2M438.5 278.9h-2.2M438.5 278.2h-3.4M438.5 273.9h-2.2M438.5 271.4h-2.2M438.5 269.6h-2.2M438.5 268.2h-2.2M438.5 267.1h-2.2M438.5 266.1h-2.2M438.5 265.3h-2.2M438.5 264.5h-2.2M438.5 263.9h-3.4M438.5 259.5h-2.2M438.5 257.0h-2.2M438.5 255.2h-2.2M438.5 253.8h-2.2M438.5 252.7h-2.2M438.5 251.7h-2.2M438.5 250.9h-2.2M438.5 250.2h-2.2M438.5 249.5h-3.4" stroke="#111" stroke-width="1.0" fill="none"/><g font-family="Liberation Sans, sans-serif" fill="#000" stroke="#000" stroke-width="0.18"><text x="110.2" y="71.7" text-anchor="middle" font-size="7.2">0</text><text x="175.8" y="71.7" font-size="7.2" textLength="14.4" lengthAdjust="spacingAndGlyphs">1000</text><text transform="translate(103.4 62.85) rotate(-90)" text-anchor="middle" font-size="7" textLength="7.2" lengthAdjust="spacingAndGlyphs">10</text><text transform="translate(99.3 57.05) rotate(-90)" text-anchor="middle" font-size="6.5">0</text><text transform="translate(103.4 48.55) rotate(-90)" text-anchor="middle" font-size="7" textLength="7.2" lengthAdjust="spacingAndGlyphs">10</text><text transform="translate(99.3 42.75) rotate(-90)" text-anchor="middle" font-size="6.5">1</text><text transform="translate(103.4 34.25) rotate(-90)" text-anchor="middle" font-size="7" textLength="7.2" lengthAdjust="spacingAndGlyphs">10</text><text transform="translate(99.3 28.45) rotate(-90)" text-anchor="middle" font-size="6.5">2</text><text transform="translate(103.4 19.95) rotate(-90)" text-anchor="middle" font-size="7" textLength="7.2" lengthAdjust="spacingAndGlyphs">10</text><text transform="translate(99.3 14.15) rotate(-90)" text-anchor="middle" font-size="6.5">3</text><text transform="translate(103.4 5.65) rotate(-90)" text-anchor="middle" font-size="7" textLength="7.2" lengthAdjust="spacingAndGlyphs">10</text><text transform="translate(99.3 -0.15) rotate(-90)" text-anchor="middle" font-size="6.5">4</text><text x="220.3" y="72.2" text-anchor="middle" font-size="7.2">0</text><text x="285.4" y="72.2" font-size="7.2" textLength="14.4" lengthAdjust="spacingAndGlyphs">1000</text><text transform="translate(213.5 63.35) rotate(-90)" text-anchor="middle" font-size="7" textLength="7.2" lengthAdjust="spacingAndGlyphs">10</text><text transform="translate(209.4 57.55) rotate(-90)" text-anchor="middle" font-size="6.5">0</text><text transform="translate(213.5 48.98) rotate(-90)" text-anchor="middle" font-size="7" textLength="7.2" lengthAdjust="spacingAndGlyphs">10</text><text transform="translate(209.4 43.17) rotate(-90)" text-anchor="middle" font-size="6.5">1</text><text transform="translate(213.5 34.60) rotate(-90)" text-anchor="middle" font-size="7" textLength="7.2" lengthAdjust="spacingAndGlyphs">10</text><text transform="translate(209.4 28.80) rotate(-90)" text-anchor="middle" font-size="6.5">2</text><text transform="translate(213.5 20.23) rotate(-90)" text-anchor="middle" font-size="7" textLength="7.2" lengthAdjust="spacingAndGlyphs">10</text><text transform="translate(209.4 14.43) rotate(-90)" text-anchor="middle" font-size="6.5">3</text><text transform="translate(213.5 5.85) rotate(-90)" text-anchor="middle" font-size="7" textLength="7.2" lengthAdjust="spacingAndGlyphs">10</text><text transform="translate(209.4 0.05) rotate(-90)" text-anchor="middle" font-size="6.5">4</text><text x="333.0" y="72.5" text-anchor="middle" font-size="7.2">0</text><text x="398.0" y="72.5" font-size="7.2" textLength="14.4" lengthAdjust="spacingAndGlyphs">1000</text><text transform="translate(326.2 63.65) rotate(-90)" text-anchor="middle" font-size="7" textLength="7.2" lengthAdjust="spacingAndGlyphs">10</text><text transform="translate(322.1 57.85) rotate(-90)" text-anchor="middle" font-size="6.5">0</text><text transform="translate(326.2 49.45) rotate(-90)" text-anchor="middle" font-size="7" textLength="7.2" lengthAdjust="spacingAndGlyphs">10</text><text transform="translate(322.1 43.65) rotate(-90)" text-anchor="middle" font-size="6.5">1</text><text transform="translate(326.2 35.25) rotate(-90)" text-anchor="middle" font-size="7" textLength="7.2" lengthAdjust="spacingAndGlyphs">10</text><text transform="translate(322.1 29.45) rotate(-90)" text-anchor="middle" font-size="6.5">2</text><text transform="translate(326.2 21.05) rotate(-90)" text-anchor="middle" font-size="7" textLength="7.2" lengthAdjust="spacingAndGlyphs">10</text><text transform="translate(322.1 15.25) rotate(-90)" text-anchor="middle" font-size="6.5">3</text><text transform="translate(326.2 6.85) rotate(-90)" text-anchor="middle" font-size="7" textLength="7.2" lengthAdjust="spacingAndGlyphs">10</text><text transform="translate(322.1 1.05) rotate(-90)" text-anchor="middle" font-size="6.5">4</text><text x="438.3" y="73.1" text-anchor="middle" font-size="7.2">0</text><text x="503.0" y="73.1" font-size="7.2" textLength="14.4" lengthAdjust="spacingAndGlyphs">1000</text><text transform="translate(431.5 64.25) rotate(-90)" text-anchor="middle" font-size="7" textLength="7.2" lengthAdjust="spacingAndGlyphs">10</text><text transform="translate(427.4 58.45) rotate(-90)" text-anchor="middle" font-size="6.5">0</text><text transform="translate(431.5 49.95) rotate(-90)" text-anchor="middle" font-size="7" textLength="7.2" lengthAdjust="spacingAndGlyphs">10</text><text transform="translate(427.4 44.15) rotate(-90)" text-anchor="middle" font-size="6.5">1</text><text transform="translate(431.5 35.65) rotate(-90)" text-anchor="middle" font-size="7" textLength="7.2" lengthAdjust="spacingAndGlyphs">10</text><text transform="translate(427.4 29.85) rotate(-90)" text-anchor="middle" font-size="6.5">2</text><text transform="translate(431.5 21.35) rotate(-90)" text-anchor="middle" font-size="7" textLength="7.2" lengthAdjust="spacingAndGlyphs">10</text><text transform="translate(427.4 15.55) rotate(-90)" text-anchor="middle" font-size="6.5">3</text><text transform="translate(431.5 7.05) rotate(-90)" text-anchor="middle" font-size="7" textLength="7.2" lengthAdjust="spacingAndGlyphs">10</text><text transform="translate(427.4 1.25) rotate(-90)" text-anchor="middle" font-size="6.5">4</text><text x="110.2" y="191.7" text-anchor="middle" font-size="7.2">0</text><text x="175.8" y="191.7" font-size="7.2" textLength="14.4" lengthAdjust="spacingAndGlyphs">1000</text><text transform="translate(103.4 182.85) rotate(-90)" text-anchor="middle" font-size="7" textLength="7.2" lengthAdjust="spacingAndGlyphs">10</text><text transform="translate(99.3 177.05) rotate(-90)" text-anchor="middle" font-size="6.5">0</text><text transform="translate(103.4 168.62) rotate(-90)" text-anchor="middle" font-size="7" textLength="7.2" lengthAdjust="spacingAndGlyphs">10</text><text transform="translate(99.3 162.83) rotate(-90)" text-anchor="middle" font-size="6.5">1</text><text transform="translate(103.4 154.40) rotate(-90)" text-anchor="middle" font-size="7" textLength="7.2" lengthAdjust="spacingAndGlyphs">10</text><text transform="translate(99.3 148.60) rotate(-90)" text-anchor="middle" font-size="6.5">2</text><text transform="translate(103.4 140.17) rotate(-90)" text-anchor="middle" font-size="7" textLength="7.2" lengthAdjust="spacingAndGlyphs">10</text><text transform="translate(99.3 134.38) rotate(-90)" text-anchor="middle" font-size="6.5">3</text><text transform="translate(103.4 125.95) rotate(-90)" text-anchor="middle" font-size="7" textLength="7.2" lengthAdjust="spacingAndGlyphs">10</text><text transform="translate(99.3 120.15) rotate(-90)" text-anchor="middle" font-size="6.5">4</text><text x="220.0" y="192.5" text-anchor="middle" font-size="7.2">0</text><text x="285.5" y="192.5" font-size="7.2" textLength="14.4" lengthAdjust="spacingAndGlyphs">1000</text><text transform="translate(213.2 183.65) rotate(-90)" text-anchor="middle" font-size="7" textLength="7.2" lengthAdjust="spacingAndGlyphs">10</text><text transform="translate(209.1 177.85) rotate(-90)" text-anchor="middle" font-size="6.5">0</text><text transform="translate(213.2 169.38) rotate(-90)" text-anchor="middle" font-size="7" textLength="7.2" lengthAdjust="spacingAndGlyphs">10</text><text transform="translate(209.1 163.58) rotate(-90)" text-anchor="middle" font-size="6.5">1</text><text transform="translate(213.2 155.10) rotate(-90)" text-anchor="middle" font-size="7" textLength="7.2" lengthAdjust="spacingAndGlyphs">10</text><text transform="translate(209.1 149.30) rotate(-90)" text-anchor="middle" font-size="6.5">2</text><text transform="translate(213.2 140.83) rotate(-90)" text-anchor="middle" font-size="7" textLength="7.2" lengthAdjust="spacingAndGlyphs">10</text><text transform="translate(209.1 135.03) rotate(-90)" text-anchor="middle" font-size="6.5">3</text><text transform="translate(213.2 126.55) rotate(-90)" text-anchor="middle" font-size="7" textLength="7.2" lengthAdjust="spacingAndGlyphs">10</text><text transform="translate(209.1 120.75) rotate(-90)" text-anchor="middle" font-size="6.5">4</text><text x="334.1" y="192.8" text-anchor="middle" font-size="7.2">0</text><text x="399.7" y="192.8" font-size="7.2" textLength="14.4" lengthAdjust="spacingAndGlyphs">1000</text><text transform="translate(327.3 183.95) rotate(-90)" text-anchor="middle" font-size="7" textLength="7.2" lengthAdjust="spacingAndGlyphs">10</text><text transform="translate(323.2 178.15) rotate(-90)" text-anchor="middle" font-size="6.5">0</text><text transform="translate(327.3 169.70) rotate(-90)" text-anchor="middle" font-size="7" textLength="7.2" lengthAdjust="spacingAndGlyphs">10</text><text transform="translate(323.2 163.90) rotate(-90)" text-anchor="middle" font-size="6.5">1</text><text transform="translate(327.3 155.45) rotate(-90)" text-anchor="middle" font-size="7" textLength="7.2" lengthAdjust="spacingAndGlyphs">10</text><text transform="translate(323.2 149.65) rotate(-90)" text-anchor="middle" font-size="6.5">2</text><text transform="translate(327.3 141.20) rotate(-90)" text-anchor="middle" font-size="7" textLength="7.2" lengthAdjust="spacingAndGlyphs">10</text><text transform="translate(323.2 135.40) rotate(-90)" text-anchor="middle" font-size="6.5">3</text><text transform="translate(327.3 126.95) rotate(-90)" text-anchor="middle" font-size="7" textLength="7.2" lengthAdjust="spacingAndGlyphs">10</text><text transform="translate(323.2 121.15) rotate(-90)" text-anchor="middle" font-size="6.5">4</text><text x="439.5" y="193.2" text-anchor="middle" font-size="7.2">0</text><text x="504.6" y="193.2" font-size="7.2" textLength="14.4" lengthAdjust="spacingAndGlyphs">1000</text><text transform="translate(432.7 184.35) rotate(-90)" text-anchor="middle" font-size="7" textLength="7.2" lengthAdjust="spacingAndGlyphs">10</text><text transform="translate(428.6 178.55) rotate(-90)" text-anchor="middle" font-size="6.5">0</text><text transform="translate(432.7 170.00) rotate(-90)" text-anchor="middle" font-size="7" textLength="7.2" lengthAdjust="spacingAndGlyphs">10</text><text transform="translate(428.6 164.20) rotate(-90)" text-anchor="middle" font-size="6.5">1</text><text transform="translate(432.7 155.65) rotate(-90)" text-anchor="middle" font-size="7" textLength="7.2" lengthAdjust="spacingAndGlyphs">10</text><text transform="translate(428.6 149.85) rotate(-90)" text-anchor="middle" font-size="6.5">2</text><text transform="translate(432.7 141.30) rotate(-90)" text-anchor="middle" font-size="7" textLength="7.2" lengthAdjust="spacingAndGlyphs">10</text><text transform="translate(428.6 135.50) rotate(-90)" text-anchor="middle" font-size="6.5">3</text><text transform="translate(432.7 126.95) rotate(-90)" text-anchor="middle" font-size="7" textLength="7.2" lengthAdjust="spacingAndGlyphs">10</text><text transform="translate(428.6 121.15) rotate(-90)" text-anchor="middle" font-size="6.5">4</text><text x="110.0" y="315.8" text-anchor="middle" font-size="7.2">0</text><text x="175.5" y="315.8" font-size="7.2" textLength="14.4" lengthAdjust="spacingAndGlyphs">1000</text><text transform="translate(103.2 306.95) rotate(-90)" text-anchor="middle" font-size="7" textLength="7.2" lengthAdjust="spacingAndGlyphs">10</text><text transform="translate(99.1 301.15) rotate(-90)" text-anchor="middle" font-size="6.5">0</text><text transform="translate(103.2 292.55) rotate(-90)" text-anchor="middle" font-size="7" textLength="7.2" lengthAdjust="spacingAndGlyphs">10</text><text transform="translate(99.1 286.75) rotate(-90)" text-anchor="middle" font-size="6.5">1</text><text transform="translate(103.2 278.15) rotate(-90)" text-anchor="middle" font-size="7" textLength="7.2" lengthAdjust="spacingAndGlyphs">10</text><text transform="translate(99.1 272.35) rotate(-90)" text-anchor="middle" font-size="6.5">2</text><text transform="translate(103.2 263.75) rotate(-90)" text-anchor="middle" font-size="7" textLength="7.2" lengthAdjust="spacingAndGlyphs">10</text><text transform="translate(99.1 257.95) rotate(-90)" text-anchor="middle" font-size="6.5">3</text><text transform="translate(103.2 249.35) rotate(-90)" text-anchor="middle" font-size="7" textLength="7.2" lengthAdjust="spacingAndGlyphs">10</text><text transform="translate(99.1 243.55) rotate(-90)" text-anchor="middle" font-size="6.5">4</text><text x="219.9" y="316.2" text-anchor="middle" font-size="7.2">0</text><text x="285.4" y="316.2" font-size="7.2" textLength="14.4" lengthAdjust="spacingAndGlyphs">1000</text><text transform="translate(213.1 307.35) rotate(-90)" text-anchor="middle" font-size="7" textLength="7.2" lengthAdjust="spacingAndGlyphs">10</text><text transform="translate(209.0 301.55) rotate(-90)" text-anchor="middle" font-size="6.5">0</text><text transform="translate(213.1 293.00) rotate(-90)" text-anchor="middle" font-size="7" textLength="7.2" lengthAdjust="spacingAndGlyphs">10</text><text transform="translate(209.0 287.20) rotate(-90)" text-anchor="middle" font-size="6.5">1</text><text transform="translate(213.1 278.65) rotate(-90)" text-anchor="middle" font-size="7" textLength="7.2" lengthAdjust="spacingAndGlyphs">10</text><text transform="translate(209.0 272.85) rotate(-90)" text-anchor="middle" font-size="6.5">2</text><text transform="translate(213.1 264.30) rotate(-90)" text-anchor="middle" font-size="7" textLength="7.2" lengthAdjust="spacingAndGlyphs">10</text><text transform="translate(209.0 258.50) rotate(-90)" text-anchor="middle" font-size="6.5">3</text><text transform="translate(213.1 249.95) rotate(-90)" text-anchor="middle" font-size="7" textLength="7.2" lengthAdjust="spacingAndGlyphs">10</text><text transform="translate(209.0 244.15) rotate(-90)" text-anchor="middle" font-size="6.5">4</text><text x="334.3" y="316.7" text-anchor="middle" font-size="7.2">0</text><text x="399.5" y="316.7" font-size="7.2" textLength="14.4" lengthAdjust="spacingAndGlyphs">1000</text><text transform="translate(327.5 307.85) rotate(-90)" text-anchor="middle" font-size="7" textLength="7.2" lengthAdjust="spacingAndGlyphs">10</text><text transform="translate(323.4 302.05) rotate(-90)" text-anchor="middle" font-size="6.5">0</text><text transform="translate(327.5 293.53) rotate(-90)" text-anchor="middle" font-size="7" textLength="7.2" lengthAdjust="spacingAndGlyphs">10</text><text transform="translate(323.4 287.73) rotate(-90)" text-anchor="middle" font-size="6.5">1</text><text transform="translate(327.5 279.20) rotate(-90)" text-anchor="middle" font-size="7" textLength="7.2" lengthAdjust="spacingAndGlyphs">10</text><text transform="translate(323.4 273.40) rotate(-90)" text-anchor="middle" font-size="6.5">2</text><text transform="translate(327.5 264.88) rotate(-90)" text-anchor="middle" font-size="7" textLength="7.2" lengthAdjust="spacingAndGlyphs">10</text><text transform="translate(323.4 259.07) rotate(-90)" text-anchor="middle" font-size="6.5">3</text><text transform="translate(327.5 250.55) rotate(-90)" text-anchor="middle" font-size="7" textLength="7.2" lengthAdjust="spacingAndGlyphs">10</text><text transform="translate(323.4 244.75) rotate(-90)" text-anchor="middle" font-size="6.5">4</text><text x="439.5" y="317.2" text-anchor="middle" font-size="7.2">0</text><text x="504.8" y="317.2" font-size="7.2" textLength="14.4" lengthAdjust="spacingAndGlyphs">1000</text><text transform="translate(432.7 308.35) rotate(-90)" text-anchor="middle" font-size="7" textLength="7.2" lengthAdjust="spacingAndGlyphs">10</text><text transform="translate(428.6 302.55) rotate(-90)" text-anchor="middle" font-size="6.5">0</text><text transform="translate(432.7 293.98) rotate(-90)" text-anchor="middle" font-size="7" textLength="7.2" lengthAdjust="spacingAndGlyphs">10</text><text transform="translate(428.6 288.18) rotate(-90)" text-anchor="middle" font-size="6.5">1</text><text transform="translate(432.7 279.60) rotate(-90)" text-anchor="middle" font-size="7" textLength="7.2" lengthAdjust="spacingAndGlyphs">10</text><text transform="translate(428.6 273.80) rotate(-90)" text-anchor="middle" font-size="6.5">2</text><text transform="translate(432.7 265.23) rotate(-90)" text-anchor="middle" font-size="7" textLength="7.2" lengthAdjust="spacingAndGlyphs">10</text><text transform="translate(428.6 259.43) rotate(-90)" text-anchor="middle" font-size="6.5">3</text><text transform="translate(432.7 250.85) rotate(-90)" text-anchor="middle" font-size="7" textLength="7.2" lengthAdjust="spacingAndGlyphs">10</text><text transform="translate(428.6 245.05) rotate(-90)" text-anchor="middle" font-size="6.5">4</text></g><g font-family="Liberation Sans, sans-serif" fill="#000" stroke="#000" stroke-width="0.25"><text x="136.0" y="79.8" font-size="8.0" textLength="20.4" lengthAdjust="spacingAndGlyphs">FSC-H</text><text x="245.8" y="80.2" font-size="8.0" textLength="20.4" lengthAdjust="spacingAndGlyphs">FSC-H</text><text x="358.5" y="81.2" font-size="8.0" textLength="20.4" lengthAdjust="spacingAndGlyphs">FSC-H</text><text x="463.8" y="81.7" font-size="8.0" textLength="20.4" lengthAdjust="spacingAndGlyphs">FSC-H</text><text x="136.0" y="199.8" font-size="8.0" textLength="20.4" lengthAdjust="spacingAndGlyphs">FSC-H</text><text x="246.0" y="200.2" font-size="8.0" textLength="20.4" lengthAdjust="spacingAndGlyphs">FSC-H</text><text x="359.8" y="201.1" font-size="8.0" textLength="20.4" lengthAdjust="spacingAndGlyphs">FSC-H</text><text x="465.0" y="201.8" font-size="8.0" textLength="20.4" lengthAdjust="spacingAndGlyphs">FSC-H</text><text x="136.0" y="323.3" font-size="8.0" textLength="20.4" lengthAdjust="spacingAndGlyphs">FSC-H</text><text x="246.0" y="323.8" font-size="8.0" textLength="20.4" lengthAdjust="spacingAndGlyphs">FSC-H</text><text x="359.8" y="325.2" font-size="8.0" textLength="20.4" lengthAdjust="spacingAndGlyphs">FSC-H</text><text x="465.0" y="325.4" font-size="8.0" textLength="20.4" lengthAdjust="spacingAndGlyphs">FSC-H</text></g><g font-family="Liberation Sans, sans-serif" fill="#000" stroke="#000" stroke-width="0.2"><text x="121.5" y="93.0" font-size="8.0" textLength="53.2" lengthAdjust="spacingAndGlyphs">Fused with .174</text><text x="227.2" y="94.5" font-size="8.0" textLength="49.2" lengthAdjust="spacingAndGlyphs">Fused with .45</text><text x="341.5" y="95.0" font-size="8.0" textLength="57.0" lengthAdjust="spacingAndGlyphs">Fused with TAP2</text><text x="341.5" y="104.0" font-size="8.0" textLength="56.3" lengthAdjust="spacingAndGlyphs">Deficient cell line</text><text x="446.5" y="95.4" font-size="8.0" textLength="56.4" lengthAdjust="spacingAndGlyphs">Fused with TAP1</text><text x="446.5" y="104.4" font-size="8.0" textLength="55.9" lengthAdjust="spacingAndGlyphs">Deficient cell line</text><text x="121.5" y="218.0" font-size="8.0" textLength="53.3" lengthAdjust="spacingAndGlyphs">Fused with .174</text><text x="235.8" y="218.5" font-size="8.0" textLength="49.4" lengthAdjust="spacingAndGlyphs">Fused with .45</text><text x="341.3" y="219.4" font-size="8.0" textLength="58.1" lengthAdjust="spacingAndGlyphs">Fused with TAP2</text><text x="341.3" y="228.1" font-size="8.0" textLength="56.7" lengthAdjust="spacingAndGlyphs">Deficient cell line</text><text x="446.5" y="219.6" font-size="8.0" textLength="56.7" lengthAdjust="spacingAndGlyphs">Fused with TAP1</text><text x="446.5" y="228.0" font-size="8.0" textLength="56.7" lengthAdjust="spacingAndGlyphs">Deficient cell line</text><text x="117.2" y="337.1" font-size="8.0" textLength="53.8" lengthAdjust="spacingAndGlyphs">Fused with .174</text><text x="231.6" y="337.5" font-size="8.0" textLength="49.4" lengthAdjust="spacingAndGlyphs">Fused with .45</text><text x="341.3" y="338.4" font-size="8.0" textLength="58.1" lengthAdjust="spacingAndGlyphs">Fused with TAP2</text><text x="341.3" y="347.0" font-size="8.0" textLength="56.7" lengthAdjust="spacingAndGlyphs">Deficient cell line</text><text x="446.5" y="338.8" font-size="8.0" textLength="56.7" lengthAdjust="spacingAndGlyphs">Fused with TAP1</text><text x="446.5" y="348.1" font-size="8.0" textLength="56.7" lengthAdjust="spacingAndGlyphs">Deficient cell line</text></g><g font-family="Liberation Sans, sans-serif" fill="#000"><text x="1.5" y="35.6" font-size="12.2" font-weight="bold" textLength="52.6" lengthAdjust="spacingAndGlyphs">Patient A</text><text x="0.9" y="160.1" font-size="12.2" font-weight="bold" textLength="52.1" lengthAdjust="spacingAndGlyphs">Patient B</text><text x="0.6" y="283.1" font-size="12.2" font-weight="bold" textLength="52.4" lengthAdjust="spacingAndGlyphs">Patient C</text></g><g font-family="Liberation Sans, sans-serif" fill="#000" stroke="#000" stroke-width="0.15"><text transform="translate(82.0 34.80) rotate(-90)" text-anchor="middle" font-size="7.5" textLength="28.6">HLA&#160;&#160;A3</text><text transform="translate(81.3 152.25) rotate(-90)" text-anchor="middle" font-size="7.5" textLength="28.6">HLA&#160;&#160;A3</text><text transform="translate(80.6 278.75) rotate(-90)" text-anchor="middle" font-size="7.5" textLength="28.6">HLA&#160;&#160;A3</text></g></g>
</svg>
</body></html>
